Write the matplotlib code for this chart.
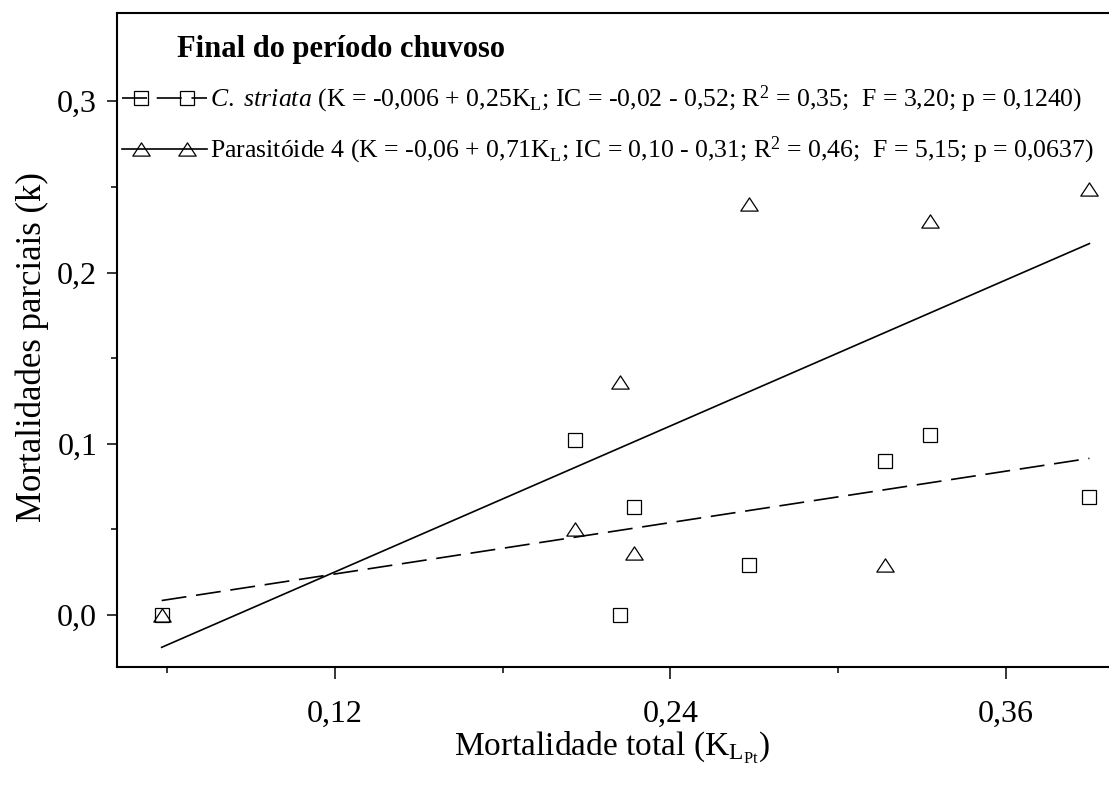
import numpy as np
import matplotlib
matplotlib.use("Agg")
import matplotlib.pyplot as plt
from matplotlib.lines import Line2D
from matplotlib.path import Path
from matplotlib.legend_handler import HandlerBase

plt.rcParams['font.family'] = ['Liberation Serif', 'DejaVu Serif']
plt.rcParams['mathtext.fontset'] = 'custom'
plt.rcParams['mathtext.rm'] = 'Liberation Serif'
plt.rcParams['mathtext.it'] = 'Liberation Serif:italic'
plt.rcParams['mathtext.bf'] = 'Liberation Serif:bold'
plt.rcParams['lines.scale_dashes'] = False

# Total mortality (K_L) and partial mortalities (k) per sampling date
k_total = [0.058, 0.206, 0.222, 0.227, 0.268, 0.317, 0.333, 0.390]
k_striata = [0.000, 0.102, 0.000, 0.063, 0.029, 0.090, 0.105, 0.069]
k_parasit4 = [0.000, 0.050, 0.136, 0.036, 0.240, 0.029, 0.230, 0.249]

# Regression coefficients (intercept, slope)
fit_striata = (-0.006, 0.25)
fit_parasit4 = (-0.06, 0.71)

x_ticks = [0.12, 0.24, 0.36]
x_ticklabels = ['0,12', '0,24', '0,36']
x_minor = [0.06, 0.18, 0.30]
y_ticks = [0.0, 0.1, 0.2, 0.3]
y_ticklabels = ['0,0', '0,1', '0,2', '0,3']
y_minor = [0.05, 0.15, 0.25]

label_striata = (r"$\mathit{C.}$ $\mathit{striata}$ (K = -0,006 + 0,25K$_\mathrm{L}$; "
                 r"IC = -0,02 - 0,52; R$^\mathrm{2}$ = 0,35;  F = 3,20; p = 0,1240)")
label_parasit4 = (r"Parasitóide 4 (K = -0,06 + 0,71K$_\mathrm{L}$; "
                  r"IC = 0,10 - 0,31; R$^\mathrm{2}$ = 0,46;  F = 5,15; p = 0,0637)")
title = "Final do período chuvoso"
xlabel = r"Mortalidade total (K$_{\mathrm{L}_{\mathrm{Pt}}}$)"
ylabel = "Mortalidades parciais (k)"

# flattened open triangle
tri = Path([(0, 0.76), (-1, -0.76), (1, -0.76), (0, 0.76)],
           [Path.MOVETO, Path.LINETO, Path.LINETO, Path.CLOSEPOLY])

fig = plt.figure(figsize=(11.09, 7.89), dpi=100)
ax = fig.add_axes([0.1052, 0.1542, 0.8948, 0.8293])

x = np.array(k_total)
xs = np.array([x.min(), x.max()])

dash_style = dict(color='black', lw=1.2, linestyle=(0, (18, 7)))
solid_style = dict(color='black', lw=1.2, linestyle='-')

ax.plot(xs, fit_striata[0] + fit_striata[1] * xs, **dash_style)
ax.plot(xs, fit_parasit4[0] + fit_parasit4[1] * xs, **solid_style)

sq_style = dict(marker='s', ms=9.5, mfc='none', mec='black', mew=0.9, linestyle='None')
tri_style = dict(marker=tri, ms=12.5, mfc='none', mec='black', mew=0.9, linestyle='None')
ax.plot(k_total, k_striata, **sq_style)
ax.plot(k_total, k_parasit4, **tri_style)

ax.set_xlim(0.0419, 0.397)
ax.set_ylim(-0.0305, 0.3515)

ax.set_xticks(x_ticks)
ax.set_xticklabels(x_ticklabels)
ax.set_xticks(x_minor, minor=True)
ax.set_yticks(y_ticks)
ax.set_yticklabels(y_ticklabels)
ax.set_yticks(y_minor, minor=True)

ax.tick_params(axis='both', which='major', direction='out', width=1.1, labelsize=23)
ax.tick_params(axis='x', which='major', length=8.5, pad=15)
ax.tick_params(axis='x', which='minor', direction='out', length=4.5, width=1.1)
ax.tick_params(axis='y', which='major', length=7, pad=7)
ax.tick_params(axis='y', which='minor', direction='out', length=4, width=1.1)

for side in ('left', 'top', 'bottom'):
    ax.spines[side].set_linewidth(1.5)
ax.spines['right'].set_visible(False)

ax.set_xlabel(xlabel, fontsize=24)
ax.xaxis.set_label_coords(0.499, -0.096)
ax.set_ylabel(ylabel, fontsize=25)
ax.yaxis.set_label_coords(-0.068, 0.49)

ax.text(0.0608, 0.9436, title, transform=ax.transAxes, fontsize=22,
        fontweight='bold', ha='left', va='center')


class KeyHandler(HandlerBase):
    """Legend key: line across the whole handle, two markers set inward."""

    def create_artists(self, legend, orig_handle, xdescent, ydescent,
                       width, height, fontsize, trans):
        x0, x1 = -xdescent, -xdescent + width
        y = (height - ydescent) / 2
        inset = 0.23 * width
        line = Line2D([x0, x1], [y, y])
        line.update_from(orig_handle)
        line.set_marker('')
        marks = Line2D([x0 + inset, x1 - inset], [y, y])
        marks.update_from(orig_handle)
        marks.set_linestyle('None')
        line.set_transform(trans)
        marks.set_transform(trans)
        return [line, marks]


h1 = Line2D([], [], marker='s', ms=9.5, mfc='none', mec='black', mew=0.9, **dash_style)
h2 = Line2D([], [], marker=tri, ms=12.5, mfc='none', mec='black', mew=0.9, **solid_style)

common = dict(frameon=False, loc='center left', borderpad=0, borderaxespad=0,
              handlelength=3.3, handletextpad=0.12, fontsize=18.5,
              handler_map={Line2D: KeyHandler()})
leg1 = ax.legend([h1], [label_striata], bbox_to_anchor=(0.0053, 0.868), **common)
ax.add_artist(leg1)
ax.legend([h2], [label_parasit4], bbox_to_anchor=(0.0053, 0.790), **common)

fig.savefig('out.png', dpi=100)
